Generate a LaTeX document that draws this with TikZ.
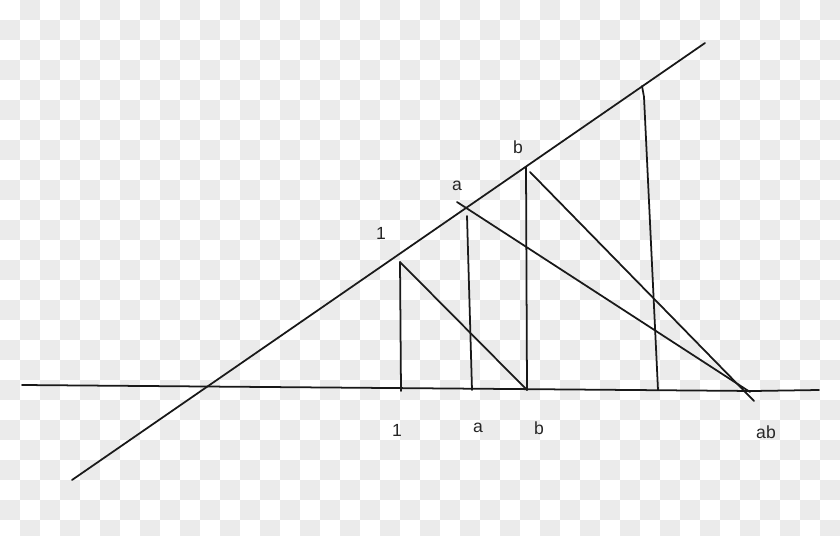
\documentclass[tikz,border=0pt]{standalone}
\usepackage{fontspec}
\setmainfont{Liberation Sans}
\usetikzlibrary{calc}

\begin{document}
\begin{tikzpicture}[x=0.03cm,y=-0.03cm,line width=1.5pt,
  stroke/.style={draw=black!90,line cap=round},
  mark label/.style={font=\fontsize{15}{17}\selectfont,text=black!85,inner sep=0pt}]

  % background squares
  \useasboundingbox (0,0) rectangle (840,536);
  \begin{scope}
    \clip (0,0) rectangle (840,536);
    \fill[white] (0,0) rectangle (840,536);
    \foreach \i in {0,...,41}
      \foreach \j in {0,...,26} {
        \pgfmathtruncatemacro\odd{mod(\i+\j,2)}
        \ifnum\odd=1 \fill[black!8] (20*\i,20*\j) rectangle ++(20,20); \fi
      }
  \end{scope}

  % points
  \coordinate (base l) at (22,385);
  \coordinate (base m) at (753,391);
  \coordinate (base r) at (819,390);
  \coordinate (ray l) at (72,480);
  \coordinate (ray r) at (705,43);
  \coordinate (one top) at (400,262);
  \coordinate (one bot) at (401,391);
  \coordinate (a top) at (467,216);
  \coordinate (a bot) at (472,390);
  \coordinate (b top) at (526,167);
  \coordinate (b bot) at (527,390);
  \coordinate (a cut) at (457,202);
  \coordinate (b cut) at (530,172);
  \coordinate (ab end) at (754,401);
  \coordinate (ab end2) at (750,392);
  \coordinate (r top) at (642,86);
  \coordinate (r kink) at (644,97);
  \coordinate (r bot) at (658,390);

  % lines
  \draw[stroke] (base l) -- (base m) -- (base r);
  \draw[stroke] (ray l) -- (ray r);
  \draw[stroke] (one top) -- (one bot);
  \draw[stroke] (one top) -- (b bot);
  \draw[stroke] (a top) -- (a bot);
  \draw[stroke] (b top) -- (b bot);
  \draw[stroke] (b cut) -- (ab end);
  \draw[stroke] (a cut) -- (ab end2);
  \draw[stroke] (r top) -- (r kink) -- (r bot);

  % labels
  \node[mark label] (l1) at (381,233) {1};
  \node[mark label] (la) at (457,186) {a};
  \node[mark label] (lb) at (518,147) {b};
  \node[mark label] (m1) at (397,430) {1};
  \node[mark label] (ma) at (478,428) {a};
  \node[mark label] (mb) at (539,428) {b};
  \node[mark label] (mab) at (766,432) {ab};
\end{tikzpicture}
\end{document}
